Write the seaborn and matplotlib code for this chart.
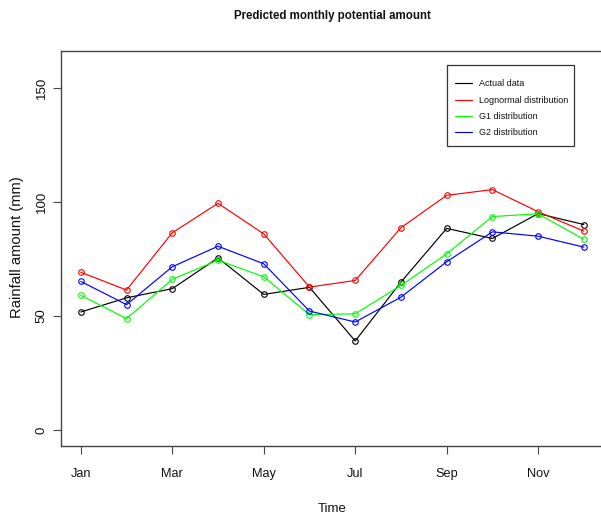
import matplotlib
matplotlib.use("Agg")
import matplotlib.pyplot as plt
from matplotlib.lines import Line2D
from matplotlib.patches import Rectangle
import seaborn as sns

# Monthly rainfall (mm): observed totals and three fitted distributions
months = ["Jan", "Feb", "Mar", "Apr", "May", "Jun",
          "Jul", "Aug", "Sep", "Oct", "Nov", "Dec"]
actual = [51.8, 58.0, 62.0, 75.5, 59.5, 62.6, 39.1, 64.9, 88.4, 84.0, 94.9, 90.1]
lognormal = [69.2, 61.4, 86.5, 99.4, 86.0, 62.7, 65.6, 88.7, 102.9, 105.4, 95.7, 87.2]
g1 = [59.1, 48.9, 66.1, 74.5, 67.2, 50.6, 51.0, 63.4, 77.3, 93.6, 94.8, 83.6]
g2 = [65.2, 55.0, 71.6, 80.6, 72.9, 52.2, 47.4, 58.3, 73.8, 86.9, 85.0, 80.2]

series_names = ["Actual data", "Lognormal distribution",
                "G1 distribution", "G2 distribution"]
series_values = [actual, lognormal, g1, g2]
series_colors = ["#000000", "#FF0000", "#00FF00", "#0000FF"]

tick_months = ["Jan", "Mar", "May", "Jul", "Sep", "Nov"]
y_ticks = [0, 50, 100, 150]

sns.set_style("white")
font = ["Liberation Sans", "DejaVu Sans"]
plt.rcParams["font.family"] = font

W, H = 601, 518
fig = plt.figure(figsize=(W / 100, H / 100), dpi=100)
ax = fig.add_axes([0.101, 0.139, 0.904, 0.7625])

month_index = list(range(1, len(months) + 1))
for name, vals, col in zip(series_names, series_values, series_colors):
    sns.lineplot(x=month_index, y=vals, ax=ax, color=col, linewidth=0.85,
                 marker="o", markersize=4.0, markerfacecolor="none",
                 markeredgecolor=col, markeredgewidth=0.8, legend=False)

ax.set_xlim(0.56, 12.44)
ax.set_ylim(-6.9, 166.1)

ax.set_xticks([months.index(m) + 1 for m in tick_months])
ax.set_xticklabels(tick_months, fontsize=9.2)
ax.set_yticks(y_ticks)
ax.set_yticklabels([str(v) for v in y_ticks], fontsize=9.5,
                   rotation=90, va="center")

edge = "#444444"
for sp in ax.spines.values():
    sp.set_color(edge)
    sp.set_linewidth(1.0)
ax.tick_params(axis="both", which="major", direction="out", length=5.8,
               width=0.8, color=edge, labelcolor="#111111", bottom=True, left=True)
ax.tick_params(axis="x", pad=10)
ax.tick_params(axis="y", pad=3.5)
ax.set_xlabel("")
ax.set_ylabel("")

fig.text(332 / W, 1 - 15.5 / H, "Predicted monthly potential amount",
         ha="center", va="center", fontsize=8.3, fontweight="bold",
         color="#111111")
fig.text(332 / W, 1 - 509 / H, "Time", ha="center", va="center",
         fontsize=9.5, color="#111111")
fig.text(16.7 / W, 1 - 247 / H, "Rainfall amount (mm)", ha="center",
         va="center", rotation=90, fontsize=10.6, color="#111111")

# Legend entries (line samples only), with a plain square box around them
handles = [Line2D([0], [0], color=c, linewidth=0.85) for c in series_colors]
leg = ax.legend(handles, series_names, loc="upper left",
                bbox_to_anchor=(455 / W, 1 - 79.5 / H),
                bbox_transform=fig.transFigure, frameon=False,
                borderpad=0, labelspacing=0.8, handlelength=1.85,
                handletextpad=0.85, borderaxespad=0,
                prop={"size": 6.5})
for t in leg.get_texts():
    t.set_color("#111111")
fig.add_artist(Rectangle((447 / W, 1 - 146 / H), 127 / W, 81 / H,
                         transform=fig.transFigure, fill=False,
                         edgecolor="#333333", linewidth=0.9))

fig.savefig("out.png", dpi=100)
